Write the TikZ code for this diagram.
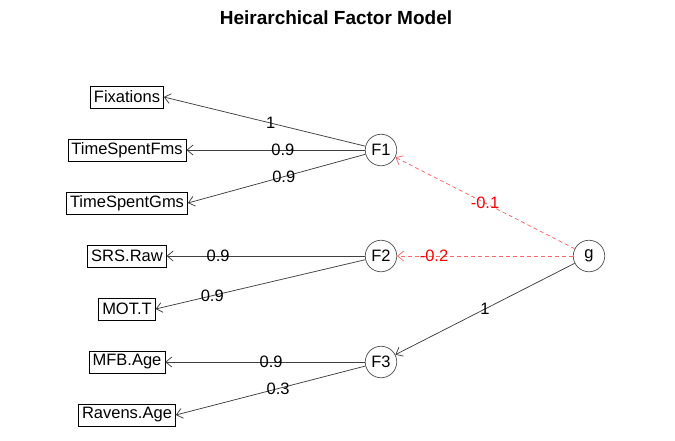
\documentclass[tikz,border=0pt]{standalone}
\usepackage{fontspec}
\setmainfont{Liberation Sans}
\usetikzlibrary{arrows.meta}

\tikzset{
  obsbox/.style={draw=black, line width=0.75pt, inner xsep=3.5pt, minimum height=22pt, font=\fontsize{16.5}{19}\selectfont},
  factor/.style={circle, draw=black!65, line width=0.75pt, minimum size=31.5pt, inner sep=0pt, font=\fontsize{16.5}{19}\selectfont},
  load/.style={draw=black!75, line width=0.75pt, -{Straight Barb[length=6pt,width=10pt]}},
  negload/.style={load, draw=red!60, dash pattern=on 4pt off 3pt},
  loadlbl/.style={font=\fontsize{16.5}{19}\selectfont, inner sep=1pt},
}

\begin{document}
\begin{tikzpicture}[x=1pt, y=-1pt]
\useasboundingbox (0,0) rectangle (675,440);
\node[font=\bfseries\fontsize{19}{22}\selectfont] (title) at (336,18) {Heirarchical Factor Model};
% observed variables
\foreach \nm/\txt/\y in {fix/Fixations/97, tsf/TimeSpentFms/150, tsg/TimeSpentGms/203, srs/SRS.Raw/256, mot/MOT.T/309, mfb/MFB.Age/362, rav/Ravens.Age/415}
  \node[obsbox] (\nm) at (127,\y) {\txt};
% factors
\node[factor] (F1) at (381,150) {F1};
\node[factor] (F2) at (381,256) {F2};
\node[factor] (F3) at (381,362) {F3};
\node[factor] (g) at (589,256) {g};
% loadings
\foreach \f/\o/\w/\p in {F1/fix/1/0.47, F1/tsf/0.9/0.46, F1/tsg/0.9/0.46, F2/srs/0.9/0.74, F2/mot/0.9/0.73, F3/mfb/0.9/0.47, F3/rav/0.3/0.46}
  \draw[load] (\f) -- node[pos=\p, loadlbl] {\w} (\o.east);
\draw[negload] (g) -- node[pos=0.5, loadlbl, text=red] {-0.1} (F1);
\draw[negload] (g) -- node[pos=0.79, loadlbl, text=red] {-0.2} (F2);
\draw[load] (g) -- node[pos=0.5, loadlbl] {1} (F3);
\end{tikzpicture}
\end{document}
